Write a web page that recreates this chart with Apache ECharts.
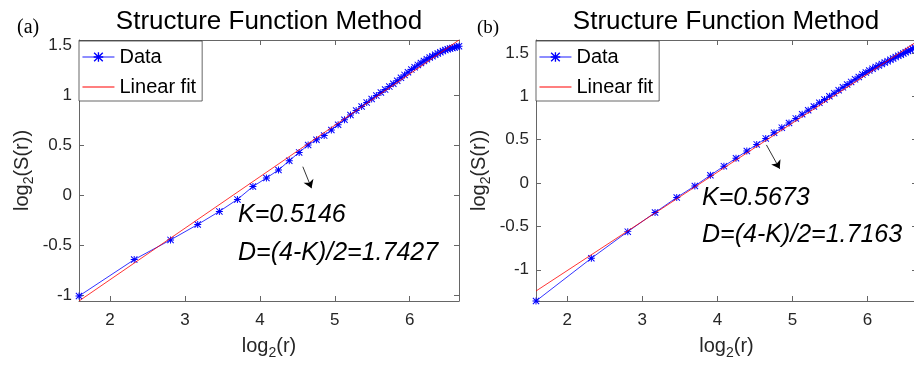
<!DOCTYPE html>
<html>
<head>
<meta charset="utf-8">
<script src="https://cdn.jsdelivr.net/npm/echarts@6/dist/echarts.min.js"></script>
<style>
  html, body { margin: 0; padding: 0; background: #fff; }
  #chart { width: 914px; height: 365px; }
</style>
</head>
<body>
<div id="chart"></div>
<script>
// log2(r) for r = 3, 5, 7, ..., 101
const logR = [1.585, 2.322, 2.807, 3.170, 3.459, 3.700, 3.907, 4.087, 4.248, 4.392,
  4.524, 4.644, 4.755, 4.858, 4.954, 5.044, 5.129, 5.209, 5.285, 5.358,
  5.426, 5.492, 5.555, 5.615, 5.672, 5.728, 5.781, 5.833, 5.883, 5.931,
  5.977, 6.022, 6.066, 6.109, 6.150, 6.190, 6.229, 6.267, 6.304, 6.340,
  6.375, 6.409, 6.443, 6.476, 6.508, 6.539, 6.570, 6.600, 6.629, 6.658];

// log2(S(r)), panel (a)
const logSa = [-1.003, -0.639, -0.442, -0.288, -0.157, -0.037, 0.092, 0.177, 0.257, 0.350,
  0.433, 0.507, 0.560, 0.601, 0.657, 0.710, 0.760, 0.807, 0.851, 0.892,
  0.931, 0.967, 1.001, 1.032, 1.061, 1.091, 1.120, 1.150, 1.179, 1.208,
  1.235, 1.261, 1.285, 1.308, 1.327, 1.347, 1.365, 1.382, 1.395, 1.410,
  1.423, 1.435, 1.446, 1.456, 1.464, 1.471, 1.477, 1.483, 1.489, 1.495];

// log2(S(r)), panel (b)
const logSb = [-1.360, -0.867, -0.560, -0.340, -0.166, -0.033, 0.090, 0.195, 0.287, 0.370,
  0.446, 0.515, 0.580, 0.639, 0.693, 0.746, 0.794, 0.840, 0.883, 0.926,
  0.964, 1.002, 1.037, 1.071, 1.104, 1.136, 1.167, 1.196, 1.224, 1.251,
  1.275, 1.297, 1.318, 1.338, 1.356, 1.373, 1.390, 1.406, 1.422, 1.438,
  1.453, 1.467, 1.481, 1.495, 1.509, 1.523, 1.536, 1.550, 1.564, 1.577];

// Linear fits (end points)
const fitX = [1.585, 6.658];
const fitYa = [-1.053, 1.557];
const fitYb = [-1.245, 1.633];

const xTicks = [2, 3, 4, 5, 6];
const yTicks = [-1, -0.5, 0, 0.5, 1, 1.5];
const yRangeA = [-1.053, 1.557];
const yRangeB = [-1.36, 1.65];

const kA = 'K=0.5146', dA = 'D=(4-K)/2=1.7427';
const kB = 'K=0.5673', dB = 'D=(4-K)/2=1.7163';
const titleText = 'Structure Function Method';

// arrow pointing from the curve towards the K/D labels (data coords)
const arrowA = [[4.573, 0.29], [4.689, 0.075]];
const arrowB = [[4.653, 0.44], [4.83, 0.164]];

const FONT = '"Liberation Sans", Arial, Helvetica, sans-serif';
const AX = '#666666';
const TXT = '#262626';
const BLUE = '#0000ff';
const RED = '#ff0000';

// eight-armed asterisk marker
const STAR = 'path://M4.3,0L5.7,0L5.7,10L4.3,10Z M0,4.3L10,4.3L10,5.7L0,5.7Z ' +
  'M1,0L10,9L9,10L0,1Z M9,0L10,1L1,10L0,9Z';
// plain horizontal stroke used as the fit's legend icon
const FIT_ICON = 'path://M0,0L32,0L32,0.9L0,0.9Z';

const pairs = (xs, ys) => xs.map((x, i) => [x, ys[i]]);

const sub = {
  a: { fontSize: 20, fontFamily: FONT, color: TXT, lineHeight: 28, verticalAlign: 'middle' },
  s: { fontSize: 14, fontFamily: FONT, color: TXT, lineHeight: 28, verticalAlign: 'bottom' }
};

const axLine = { show: true, onZero: false, lineStyle: { color: AX, width: 1 } };

function bottomX(grid) {
  return {
    type: 'value', gridIndex: grid, position: 'bottom',
    min: fitX[0], max: fitX[1],
    name: '{a|log}{s|2}{a|(r)}', nameLocation: 'middle', nameGap: 31,
    nameTextStyle: { rich: sub },
    axisLine: axLine,
    axisTick: { show: true, inside: true, length: 5, customValues: xTicks, lineStyle: { color: AX } },
    axisLabel: { show: true, customValues: xTicks, fontSize: 17, fontFamily: FONT, color: TXT, margin: 11 },
    splitLine: { show: false }
  };
}
function topX(grid) {
  return {
    type: 'value', gridIndex: grid, position: 'top',
    min: fitX[0], max: fitX[1],
    axisLine: axLine,
    axisTick: { show: true, inside: true, length: 5, customValues: xTicks, lineStyle: { color: AX } },
    axisLabel: { show: false },
    splitLine: { show: false }
  };
}
function leftY(grid, range) {
  return {
    type: 'value', gridIndex: grid, position: 'left',
    min: range[0], max: range[1],
    name: '{a|log}{s|2}{a|(S(r))}', nameLocation: 'middle', nameGap: 43,
    nameTextStyle: { rich: sub },
    axisLine: axLine,
    axisTick: { show: true, inside: true, length: 5, customValues: yTicks, lineStyle: { color: AX } },
    axisLabel: { show: true, customValues: yTicks, fontSize: 17, fontFamily: FONT, color: TXT, margin: 7 },
    splitLine: { show: false }
  };
}
function rightY(grid, range) {
  return {
    type: 'value', gridIndex: grid, position: 'right',
    min: range[0], max: range[1],
    axisLine: axLine,
    axisTick: { show: true, inside: true, length: 5, customValues: yTicks, lineStyle: { color: AX } },
    axisLabel: { show: false },
    splitLine: { show: false }
  };
}

function dataSeries(xi, yi, ys, arrow) {
  return {
    type: 'line', name: 'Data', xAxisIndex: xi, yAxisIndex: yi,
    data: pairs(logR, ys), z: 3,
    symbol: STAR, symbolSize: 7, showSymbol: true,
    itemStyle: { color: BLUE },
    lineStyle: { color: BLUE, width: 0.8 },
    emphasis: { disabled: true },
    markLine: {
      silent: true, animation: false,
      symbol: ['none', 'arrow'], symbolSize: 8,
      label: { show: false },
      lineStyle: { color: '#000', width: 0.8, type: 'solid' },
      data: [[{ coord: arrow[0] }, { coord: arrow[1] }]]
    }
  };
}
function fitSeries(xi, yi, ys) {
  return {
    type: 'line', name: 'Linear fit', xAxisIndex: xi, yAxisIndex: yi,
    data: pairs(fitX, ys), z: 4,
    symbol: 'none', showSymbol: false,
    itemStyle: { color: RED },
    lineStyle: { color: RED, width: 0.8 },
    emphasis: { disabled: true }
  };
}

function legendAt(left) {
  return {
    left: left, top: 41, orient: 'vertical',
    data: ['Data', { name: 'Linear fit', icon: FIT_ICON }],
    itemWidth: 32, itemHeight: 12, itemGap: 8,
    padding: [5, 6, 3, 3],
    borderColor: TXT, borderWidth: 0.7, backgroundColor: '#fff',
    lineStyle: { width: 0.9 },
    textStyle: { fontSize: 20, fontFamily: FONT, color: '#000', lineHeight: 22 },
    selectedMode: false
  };
}

function txt(x, y, s, size, style, family, align) {
  return {
    type: 'text', x: x, y: y, z: 10,
    style: {
      text: s, fontSize: size, fontStyle: style || 'normal', fontFamily: family || FONT,
      fill: '#000', align: align || 'left', verticalAlign: 'middle'
    }
  };
}

const option = {
  animation: false,
  backgroundColor: '#fff',
  grid: [
    { left: 79, top: 40, width: 380, height: 261, outerBoundsMode: 'none' },
    { left: 536, top: 40, width: 381, height: 261, outerBoundsMode: 'none' }
  ],
  xAxis: [bottomX(0), bottomX(1), topX(0), topX(1)],
  yAxis: [leftY(0, yRangeA), leftY(1, yRangeB), rightY(0, yRangeA), rightY(1, yRangeB)],
  legend: [legendAt(79), legendAt(536)],
  series: [
    dataSeries(0, 0, logSa, arrowA),
    fitSeries(0, 0, fitYa),
    dataSeries(1, 1, logSb, arrowB),
    fitSeries(1, 1, fitYb)
  ],
  graphic: [
    txt(269, 22, titleText, 26, 'normal', FONT, 'center'),
    txt(726, 22, titleText, 26, 'normal', FONT, 'center'),
    txt(17, 28, '(a)', 20, 'normal', '"Liberation Serif", "Times New Roman", serif'),
    txt(477, 28, '(b)', 19, 'normal', '"Liberation Serif", "Times New Roman", serif'),
    txt(238, 215, kA, 25, 'italic'),
    txt(238, 253, dA, 25, 'italic'),
    txt(702, 198, kB, 25, 'italic'),
    txt(702, 235, dB, 25, 'italic')
  ]
};

const chart = echarts.init(document.getElementById('chart'), null, { renderer: 'canvas' });
chart.setOption(option);
</script>
</body>
</html>
